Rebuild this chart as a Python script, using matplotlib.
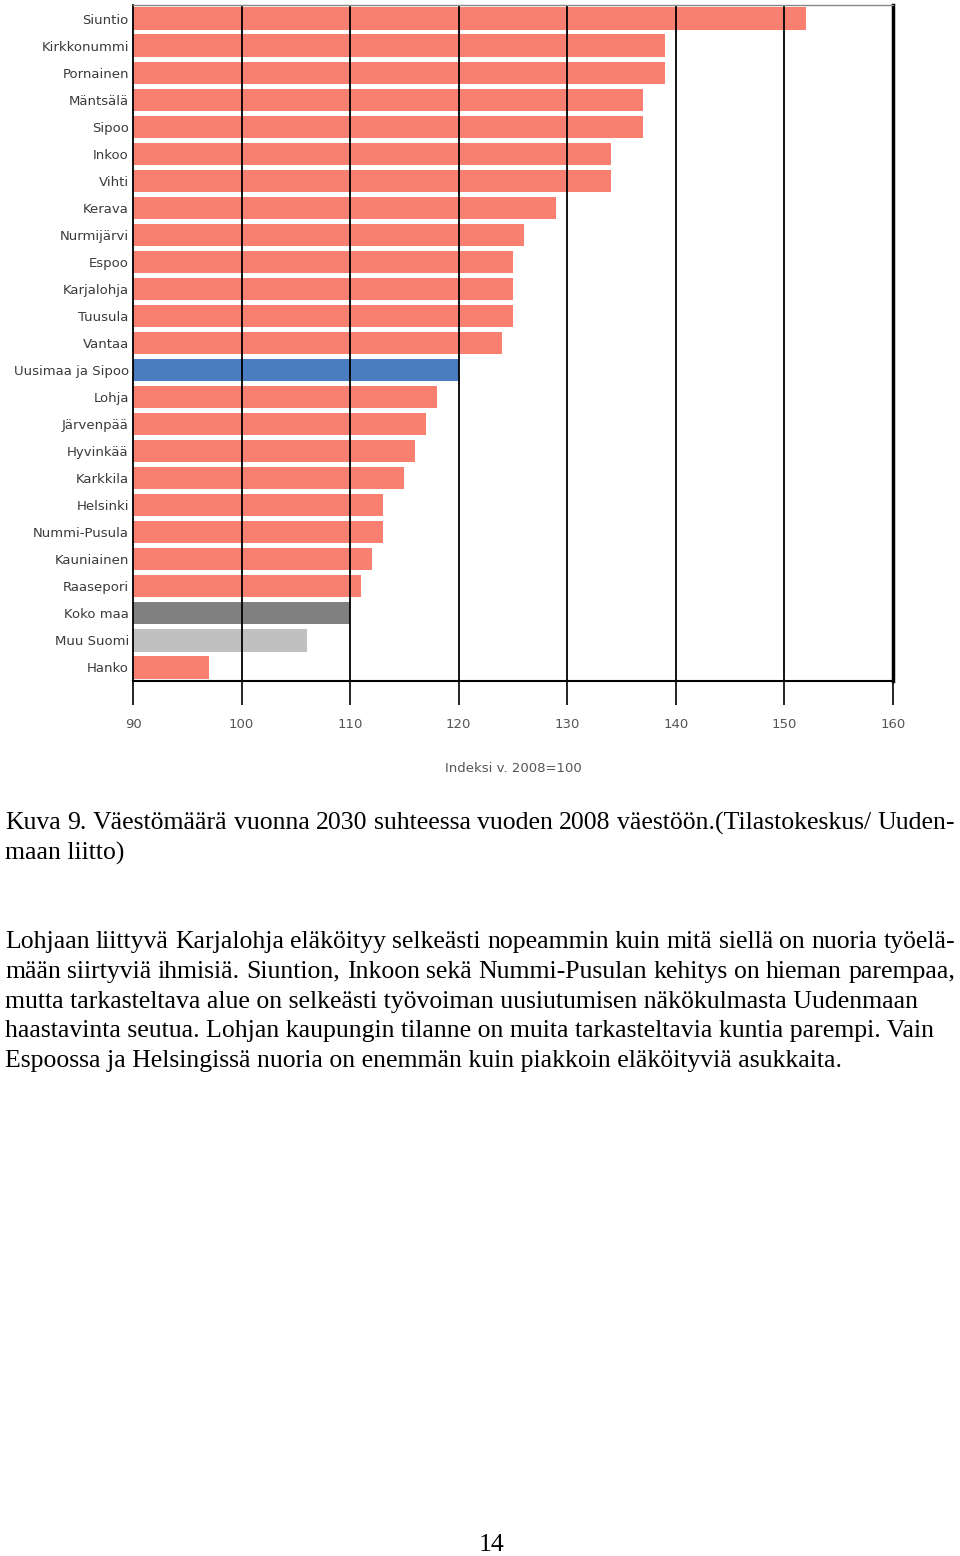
import matplotlib
matplotlib.use("Agg")
import matplotlib.pyplot as plt

# Kuntien väestöindeksi 2030 (2008 = 100)
kunnat = ["Siuntio", "Kirkkonummi", "Pornainen", "Mäntsälä", "Sipoo", "Inkoo",
          "Vihti", "Kerava", "Nurmijärvi", "Espoo", "Karjalohja", "Tuusula",
          "Vantaa", "Uusimaa ja Sipoo", "Lohja", "Järvenpää", "Hyvinkää",
          "Karkkila", "Helsinki", "Nummi-Pusula", "Kauniainen", "Raasepori",
          "Koko maa", "Muu Suomi", "Hanko"]
indeksi = [152, 139, 139, 137, 137, 134, 134, 129, 126, 125, 125, 125, 124,
           120, 118, 117, 116, 115, 113, 113, 112, 111, 110, 106, 97]
xticks = [90, 100, 110, 120, 130, 140, 150, 160]

erikoisvarit = {"Uusimaa ja Sipoo": "#4a7cc0", "Koko maa": "#808080",
                "Muu Suomi": "#c0c0c0"}
varit = [erikoisvarit.get(k, "#f98070") for k in kunnat]

kuvateksti = [
    "Kuva 9. Väestömäärä vuonna 2030 suhteessa vuoden 2008 väestöön.(Tilastokeskus/ Uuden-",
    "maan liitto)",
]
leipateksti = [
    "Lohjaan liittyvä Karjalohja eläköityy selkeästi nopeammin kuin mitä siellä on nuoria työelä-",
    "mään siirtyviä ihmisiä. Siuntion, Inkoon sekä Nummi-Pusulan kehitys on hieman parempaa,",
    "mutta tarkasteltava alue on selkeästi työvoiman uusiutumisen näkökulmasta Uudenmaan",
    "haastavinta seutua. Lohjan kaupungin tilanne on muita tarkasteltavia kuntia parempi. Vain",
    "Espoossa ja Helsingissä nuoria on enemmän kuin piakkoin eläköityviä asukkaita.",
]

W, H = 960, 1556
fig = plt.figure(figsize=(W / 100, H / 100), dpi=100)
ax = fig.add_axes([133 / W, 1 - 681 / H, 760 / W, 676 / H])

y = list(range(len(kunnat)))
ax.barh(y, [v - 90 for v in indeksi], left=90, height=0.82, color=varit, zorder=1)
ax.set_xlim(90, 160)
ax.set_ylim(len(kunnat) - 0.5, -0.5)
for t in xticks[1:-1]:
    ax.axvline(t, color="black", lw=1.3, zorder=2)

# pitkät tikkiviivat akselin alle
ax.vlines(xticks, 0, -0.036, transform=ax.get_xaxis_transform(),
          color="black", lw=1.2, clip_on=False)

ax.set_yticks(y)
ax.set_yticklabels(kunnat, fontsize=9.5, color="#3a3a3a", family="DejaVu Sans")
ax.tick_params(axis="y", length=0, pad=3)
ax.set_xticks(xticks)
ax.set_xticklabels([str(t) for t in xticks], fontsize=9.5, color="#555555",
                   family="DejaVu Sans")
ax.tick_params(axis="x", length=0, pad=27)
ax.set_xlabel("Indeksi v. 2008=100", fontsize=9.5, color="#555555",
              family="DejaVu Sans", labelpad=22)

ax.spines["top"].set_color("#888888")
ax.spines["top"].set_linewidth(1)
ax.spines["left"].set_linewidth(1.3)
ax.spines["bottom"].set_linewidth(1.5)
ax.spines["right"].set_linewidth(2.5)

# sivun teksti
def rivi(txt, ypx, justify):
    if not justify:
        fig.text(5 / W, 1 - ypx / H, txt, fontsize=18.5, family="Liberation Serif",
                 va="center", ha="left")
        return
    sanat = txt.split(" ")
    r = fig.canvas.get_renderer()
    osat = []
    for s in sanat:
        t = fig.text(0, 0, s, fontsize=18.5, family="Liberation Serif", va="center")
        osat.append((t, t.get_window_extent(r).width))
    vali = (955 - 5 - sum(w for _, w in osat)) / (len(osat) - 1)
    x = 5
    for t, w in osat:
        t.set_position((x / W, 1 - ypx / H))
        x += w + vali

rivi(kuvateksti[0], 823, True)
rivi(kuvateksti[1], 853, False)
for i, txt in enumerate(leipateksti):
    rivi(txt, 942 + i * 29.8, i < 2)

fig.text(492 / W, 1 - 1545 / H, "14", fontsize=18.5, family="Liberation Serif",
         ha="center", va="center")

fig.savefig("out.png", dpi=100)
